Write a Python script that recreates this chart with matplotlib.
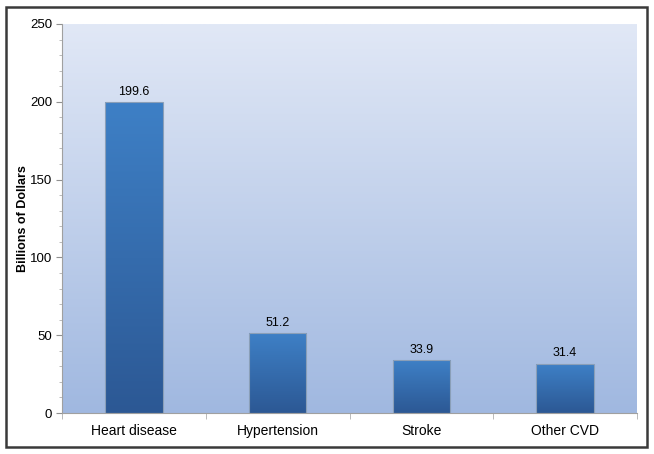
import numpy as np
import matplotlib.pyplot as plt
from matplotlib.patches import Rectangle
from matplotlib.ticker import MultipleLocator

categorie = ["Heart disease", "Hypertension", "Stroke", "Other CVD"]
valori = [199.6, 51.2, 33.9, 31.4]
etichette = ["199.6", "51.2", "33.9", "31.4"]

plt.rcParams['font.family'] = ['Liberation Sans', 'DejaVu Sans']

fig = plt.figure(figsize=(6.54, 4.54), dpi=100)
ax = fig.add_axes([62/654, 41/454, 575/654, 389/454])

# cornice esterna
fig.patches.append(Rectangle((6/654, 7/454), 641/654, 440/454, transform=fig.transFigure,
                             fill=False, edgecolor="#3a3a3a", linewidth=1.8))

x = np.arange(len(categorie))
ax.set_xlim(-0.5, len(categorie) - 0.5)
ax.set_ylim(0, 250)

# sfondo sfumato
top = np.array([225, 232, 246]) / 255
bot = np.array([160, 184, 224]) / 255
t = np.linspace(0, 1, 256)[:, None]
grad = bot * (1 - t) + top * t
ax.imshow(grad[:, None, :].repeat(2, axis=1), extent=(-0.5, len(categorie) - 0.5, 0, 250),
          origin="lower", aspect="auto", zorder=0)

# barre con sfumatura
btop = np.array([62, 128, 198]) / 255
bbot = np.array([44, 88, 148]) / 255
bars = ax.bar(x, valori, width=0.4, color="none", edgecolor="#8a9fb8", linewidth=0.8, zorder=3)
for b, v, lab in zip(bars, valori, etichette):
    bg = bbot * (1 - t) + btop * t
    im = ax.imshow(bg[:, None, :].repeat(2, axis=1),
                   extent=(b.get_x(), b.get_x() + b.get_width(), 0, v),
                   origin="lower", aspect="auto", zorder=2)
    im.set_clip_path(b)
    ax.text(b.get_x() + b.get_width() / 2, v + 3, lab, ha="center", va="bottom", fontsize=9)

ax.set_xticks(x)
ax.set_xticklabels(categorie, fontsize=10)
ax.set_xticks(np.arange(-0.5, len(categorie)), minor=True)
ax.tick_params(axis="x", which="major", length=0, pad=8)
ax.tick_params(axis="x", which="minor", length=4, color="#b0b0b0")
ax.yaxis.set_major_locator(MultipleLocator(50))
ax.yaxis.set_minor_locator(MultipleLocator(10))
ax.tick_params(axis="y", which="major", length=4, color="#909090", labelsize=9.5, pad=3)
ax.tick_params(axis="y", which="minor", length=2.5, color="#b0b0b0")
ax.set_ylabel("Billions of Dollars", fontsize=9, fontweight="bold")
ax.yaxis.set_label_coords(-0.058, 0.5)

for s in ["top", "right"]:
    ax.spines[s].set_visible(False)
ax.spines["left"].set_color("#a0a0a0")
ax.spines["bottom"].set_color("#a0a0a0")

fig.savefig("out.png", dpi=100)
